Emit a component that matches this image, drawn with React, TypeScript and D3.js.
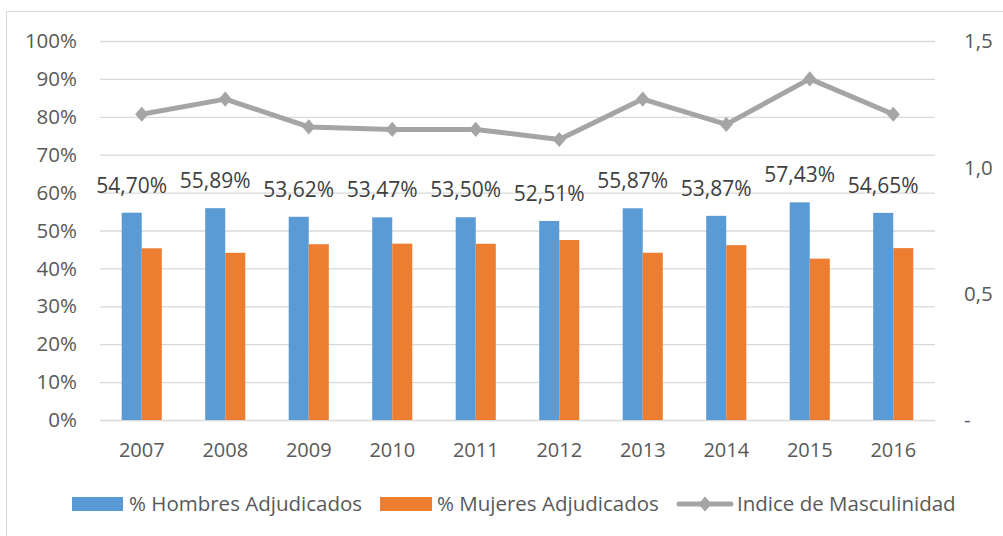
import React, { useEffect, useRef } from "react";
import * as d3 from "d3";

const years = ["2007", "2008", "2009", "2010", "2011", "2012", "2013", "2014", "2015", "2016"];
const hombres = [54.7, 55.89, 53.62, 53.47, 53.5, 52.51, 55.87, 53.87, 57.43, 54.65];
const mujeres = [45.3, 44.11, 46.38, 46.53, 46.5, 47.49, 44.13, 46.13, 42.57, 45.35];
const indice = [1.21, 1.27, 1.16, 1.15, 1.15, 1.11, 1.27, 1.17, 1.35, 1.21];
const leftTicks = [0, 10, 20, 30, 40, 50, 60, 70, 80, 90, 100];
const rightTicks = [0, 0.5, 1.0, 1.5];
const seriesNames = ["% Hombres Adjudicados", "% Mujeres Adjudicados", "Indice de Masculinidad"];

const BLUE = "#5B9BD5";
const ORANGE = "#ED7D31";
const GREY = "#A5A5A5";
const TEXT = "#595959";
const FONT = "'Open Sans', sans-serif";

// Excel-style diamond marker (a bit taller than wide)
const excelDiamond = {
  draw(context: any, size: number) {
    const w = Math.sqrt(size / 2.3);
    const h = w * 1.15;
    context.moveTo(0, -h);
    context.lineTo(w, 0);
    context.lineTo(0, h);
    context.lineTo(-w, 0);
    context.closePath();
  },
};

export default function App() {
  const ref = useRef<SVGSVGElement>(null);

  useEffect(() => {
    const svg = d3.select(ref.current);
    svg.selectAll("*").remove();

    // chart frame
    svg.append("rect")
      .attr("x", 6.5).attr("y", 11.5)
      .attr("width", 1010).attr("height", 540)
      .attr("fill", "white")
      .attr("stroke", "#d9d9d9");

    const x = d3.scaleBand().domain(years).range([100, 935]);
    const y = d3.scaleLinear().domain([0, 100]).range([420, 41]);
    const y2 = d3.scaleLinear().domain([0, 1.5]).range([420, 41]);
    const sub = d3.scaleBand().domain(["h", "m"]).range([x.bandwidth() * 0.26, x.bandwidth() * 0.74]);

    // horizontal grid
    svg.append("g")
      .selectAll("line")
      .data(leftTicks)
      .join("line")
      .attr("x1", 100).attr("x2", 935)
      .attr("y1", d => y(d) + 0.5).attr("y2", d => y(d) + 0.5)
      .attr("stroke", "#d9d9d9")
      .attr("stroke-width", 1.3);

    // left axis labels
    svg.append("g")
      .selectAll("text")
      .data(leftTicks)
      .join("text")
      .attr("x", 77)
      .attr("y", d => y(d))
      .attr("dy", "0.35em")
      .attr("text-anchor", "end")
      .style("font-family", FONT)
      .style("font-size", "20.5px")
      .style("fill", TEXT)
      .text(d => d + "%");

    // right axis labels
    svg.append("g")
      .selectAll("text")
      .data(rightTicks)
      .join("text")
      .attr("x", 964)
      .attr("y", d => y2(d))
      .attr("dy", "0.35em")
      .attr("text-anchor", "start")
      .style("font-family", FONT)
      .style("font-size", "20.5px")
      .style("fill", TEXT)
      .text(d => d === 0 ? "-" : d3.format(".1f")(d).replace(".", ","));

    // bars
    const g = svg.append("g");
    g.selectAll(".h")
      .data(years)
      .join("rect")
      .attr("x", (d) => x(d)! + sub("h")!)
      .attr("y", (d, i) => y(hombres[i]))
      .attr("width", sub.bandwidth())
      .attr("height", (d, i) => y(0) - y(hombres[i]))
      .attr("fill", BLUE);
    g.selectAll(".m")
      .data(years)
      .join("rect")
      .attr("x", (d) => x(d)! + sub("m")!)
      .attr("y", (d, i) => y(mujeres[i]))
      .attr("width", sub.bandwidth())
      .attr("height", (d, i) => y(0) - y(mujeres[i]))
      .attr("fill", ORANGE);

    // data labels on hombres bars
    svg.append("g")
      .selectAll("text")
      .data(years)
      .join("text")
      .attr("x", d => x(d)! + sub("h")! + sub.bandwidth() / 2)
      .attr("y", (d, i) => y(hombres[i]) - 20)
      .attr("text-anchor", "middle")
      .style("font-family", FONT)
      .style("font-size", "21px")
      .style("fill", "#404040")
      .text((d, i) => hombres[i].toFixed(2).replace(".", ",") + "%");

    // category labels
    svg.append("g")
      .selectAll("text")
      .data(years)
      .join("text")
      .attr("x", d => x(d)! + x.bandwidth() / 2)
      .attr("y", 450)
      .attr("dy", "0.35em")
      .attr("text-anchor", "middle")
      .style("font-family", FONT)
      .style("font-size", "20px")
      .style("fill", TEXT)
      .text(d => d);

    // line
    const line = d3.line<string>()
      .x(d => x(d)! + x.bandwidth() / 2)
      .y((d, i) => y2(indice[i]));
    svg.append("path")
      .datum(years)
      .attr("d", line)
      .attr("fill", "none")
      .attr("stroke", GREY)
      .attr("stroke-width", 5)
      .attr("stroke-linejoin", "round");

    const diamond = d3.symbol().type(excelDiamond as any).size(100);
    svg.append("g")
      .selectAll("path")
      .data(years)
      .join("path")
      .attr("transform", (d, i) => `translate(${x(d)! + x.bandwidth() / 2},${y2(indice[i])})`)
      .attr("d", diamond)
      .attr("fill", GREY);

    // legend
    const legend = svg.append("g");
    const ly = 504;
    legend.append("rect").attr("x", 72).attr("y", ly - 7).attr("width", 51).attr("height", 14).attr("fill", BLUE);
    legend.append("rect").attr("x", 380).attr("y", ly - 7).attr("width", 52).attr("height", 14).attr("fill", ORANGE);
    legend.append("line")
      .attr("x1", 679).attr("x2", 731).attr("y1", ly).attr("y2", ly)
      .attr("stroke", GREY).attr("stroke-width", 5).attr("stroke-linecap", "round");
    legend.append("path")
      .attr("transform", `translate(705,${ly})`)
      .attr("d", diamond)
      .attr("fill", GREY);
    const lx = [129, 437, 737];
    legend.selectAll("text")
      .data(seriesNames)
      .join("text")
      .attr("x", (d, i) => lx[i])
      .attr("y", ly)
      .attr("dy", "0.35em")
      .style("font-family", FONT)
      .style("font-size", "20.5px")
      .style("fill", TEXT)
      .text(d => d);
  }, []);

  return (
    <div style={{ position: "absolute", left: 0, top: 0, width: 1003, height: 536, overflow: "hidden", background: "white" }}>
      <svg ref={ref} width={1003} height={536}></svg>
    </div>
  );
}
